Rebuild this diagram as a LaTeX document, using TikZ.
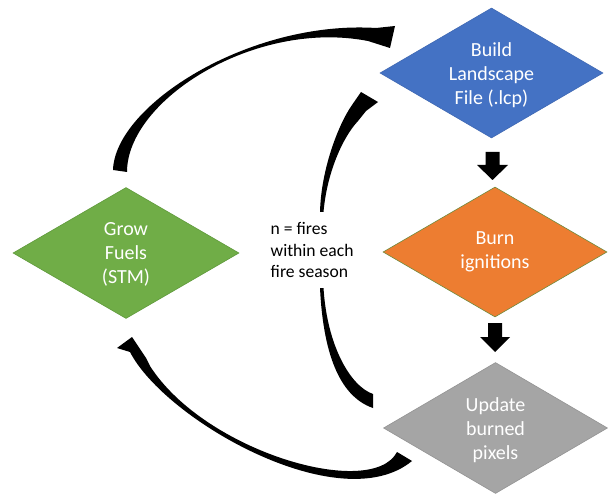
\documentclass[tikz,border=0pt]{standalone}
\usepackage{fontspec}
\setmainfont{Carlito}
\usetikzlibrary{shapes.geometric}
\definecolor{pblue}{HTML}{4472C4}
\definecolor{pblueedge}{HTML}{3F68B3}
\definecolor{porange}{HTML}{ED7D31}
\definecolor{porangeedge}{HTML}{6E8B3D}
\definecolor{pgray}{HTML}{A5A5A5}
\definecolor{pgrayedge}{HTML}{939393}
\definecolor{pgreen}{HTML}{70AD47}
\definecolor{pgreenedge}{HTML}{5F9A3B}
\begin{document}
\begin{tikzpicture}[x=1pt,y=-1pt,
  diam/.style={diamond, inner sep=0pt, minimum width=224pt, minimum height=130pt, line width=0.6pt},
  dtext/.style={text=white, align=center, font=\fontsize{20}{24}\selectfont, inner sep=0pt},
  ntext/.style={text=black, align=left, font=\fontsize{17.6}{21.5}\selectfont, inner sep=0pt, anchor=west},
  blockarrow/.style={fill=black},
  curvearrow/.style={fill=black}]
\useasboundingbox (0,0) rectangle (612,494);
\fill[white] (0,0) rectangle (612,494);

% diamonds
\node[diam, fill=pblue, draw=pblueedge, minimum width=223pt] (build) at (491.5,73) {};
\node[diam, fill=porange, draw=porangeedge] (burn) at (495,252) {};
\node[diam, fill=pgray, draw=pgrayedge, minimum height=131pt] (update) at (495.5,428) {};
\node[diam, fill=pgreen, draw=pgreenedge, minimum width=226pt, minimum height=131pt] (grow) at (126,253) {};

\node[dtext] (buildt) at ([yshift=-2pt]build.center) {Build\\Landscape\\File (.lcp)};
\node[dtext] (burnt) at (burn.center) {Burn\\ignitions};
\node[dtext] (updatet) at ([yshift=-2pt]update.center) {Update\\burned\\pixels};
\node[dtext] (growt) at ([yshift=-1pt]grow.center) {Grow\\Fuels\\(STM)};

\node[ntext] (note) at (270.5,250) {n = fires\\within each\\fire season};

% block arrows
\fill[blockarrow] (485.5,152) -- (499.5,152) -- (499.5,165) -- (508,165) -- (492.5,180) -- (477,165) -- (485.5,165) -- cycle;
\fill[blockarrow] (488,323) -- (502,323) -- (502,337) -- (510,337) -- (495,352) -- (480,337) -- (488,337) -- cycle;

% curved arrow: grow -> build (top)
\fill[curvearrow] (113,170) .. controls (115,105) and (250,20) .. (376,28)
  -- (395,26) -- (390,48) -- (368,41)
  .. controls (255,19) and (127,100) .. (127,172) -- cycle;

% curved arrow: note -> build
\fill[curvearrow] (320,212) .. controls (321,170) and (338,125) .. (352,105)
  -- (361,92) -- (378,102) -- (366,111) -- (358,121)
  .. controls (343,137) and (327,172) .. (323.5,212) -- cycle;

% curved tail: note -> update
\fill[curvearrow] (320,288) .. controls (323,350) and (338,396) .. (373,408)
  -- (373,394) .. controls (350,386) and (327,345) .. (323.5,288) -- cycle;

% curved arrow: update -> grow
\fill[curvearrow] (397,452) .. controls (372,500) and (205,452) .. (150,366)
  -- (146,358) -- (132,337) -- (117,348) -- (130,352)
  .. controls (165,420) and (340,520) .. (412,461) -- cycle;
\end{tikzpicture}
\end{document}
